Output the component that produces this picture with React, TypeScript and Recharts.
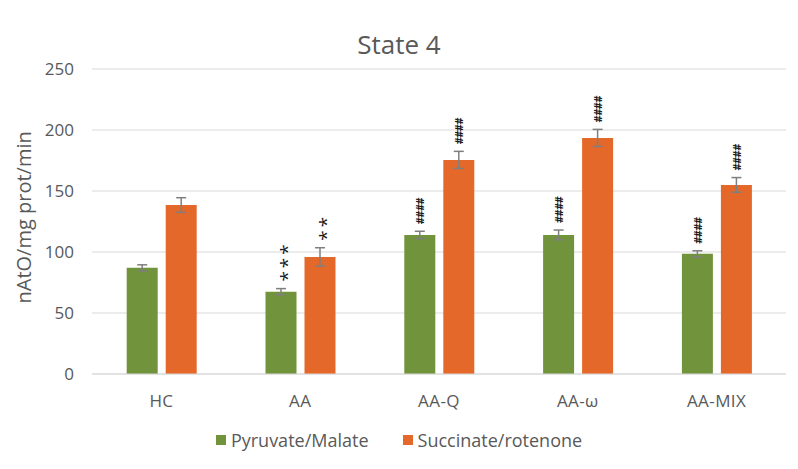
import { Bar, BarChart, CartesianGrid, ErrorBar, LabelList, XAxis, YAxis } from "recharts"

const categories = ["HC", "AA", "AA-Q", "AA-ω", "AA-MIX"]
const pyruvateMalate = [87, 67.5, 114, 114, 98.5]
const pyruvateErr = [2.5, 2.5, 3, 4, 2.5]
const succinateRotenone = [138.5, 96, 175.5, 193.5, 155]
const succinateErr = [6, 7.5, 7, 7, 6]
const pyruvateMarks = ["", "***", "####", "####", "####"]
const succinateMarks = ["", "**", "####", "####", "####"]
const yTicks = [0, 50, 100, 150, 200, 250]

const GREEN = "#71933B"
const ORANGE = "#E4682A"
const TEXT = "#595959"
const FONT = "'Open Sans', sans-serif"

const rows = categories.map((name, i) => ({
  name,
  pm: pyruvateMalate[i],
  pmErr: pyruvateErr[i],
  sr: succinateRotenone[i],
  srErr: succinateErr[i],
}))

function markRenderer(marks: string[], errs: number[], values: number[]) {
  return (props: any) => {
    const { x, y, width, height, index } = props
    const mark = marks[index]
    if (!mark) return null
    const cx = Number(x) + Number(width) / 2
    const pxPerUnit = Number(height) / values[index]
    const top = Number(y) - errs[index] * pxPerUnit - 7
    const isStar = mark.startsWith("*")
    return (
      <text
        x={cx}
        y={top}
        transform={`rotate(-90, ${cx}, ${top})`}
        textAnchor="start"
        dominantBaseline="central"
        dy={isStar ? "0.3em" : "0"}
        fontFamily={FONT}
        fontSize={isStar ? 19 : 11}
        fontWeight={isStar ? 400 : 700}
        letterSpacing={isStar ? 3 : -0.5}
        fill="#1a1a1a"
      >
        {mark}
      </text>
    )
  }
}

const legendItems = [
  { label: "Pyruvate/Malate", color: GREEN },
  { label: "Succinate/rotenone", color: ORANGE },
]

export default function App() {
  return (
    <div style={{ position: "absolute", left: 0, top: 0, width: 798, height: 469, background: "#fff" }}>
      <div
        style={{
          position: "absolute",
          top: 27,
          width: 798,
          textAlign: "center",
          fontFamily: FONT,
          fontSize: 26,
          color: TEXT,
          lineHeight: "34px",
        }}
      >
        State 4
      </div>
      <BarChart
        width={798}
        height={469}
        data={rows}
        margin={{ top: 69, right: 12, left: 0, bottom: 65 }}
        barCategoryGap="25%"
        barGap={8}
      >
        <CartesianGrid vertical={false} stroke="#D9D9D9" />
        <XAxis
          dataKey="name"
          height={30}
          axisLine={{ stroke: "#D9D9D9" }}
          tickLine={false}
          tickMargin={15}
          tick={{ fill: TEXT, fontSize: 17, fontFamily: FONT, letterSpacing: 0.4 }}
        />
        <YAxis
          width={92}
          domain={[0, 250]}
          ticks={yTicks}
          axisLine={false}
          tickLine={false}
          tickMargin={12}
          tick={{ fill: TEXT, fontSize: 17, fontFamily: FONT }}
          label={{
            value: "nAtO/mg prot/min",
            angle: -90,
            position: "insideLeft",
            dx: 19,
            dy: 82,
            style: { fill: TEXT, fontSize: 20, fontFamily: FONT },
          }}
        />
        <Bar dataKey="pm" name="Pyruvate/Malate" fill={GREEN} isAnimationActive={false}>
          <ErrorBar dataKey="pmErr" width={5} stroke="#7F7F7F" strokeWidth={1.5} />
          <LabelList dataKey="pm" content={markRenderer(pyruvateMarks, pyruvateErr, pyruvateMalate)} />
        </Bar>
        <Bar dataKey="sr" name="Succinate/rotenone" fill={ORANGE} isAnimationActive={false}>
          <ErrorBar dataKey="srErr" width={5} stroke="#7F7F7F" strokeWidth={1.5} />
          <LabelList dataKey="sr" content={markRenderer(succinateMarks, succinateErr, succinateRotenone)} />
        </Bar>
      </BarChart>
      <div
        style={{
          position: "absolute",
          top: 428,
          left: 0,
          width: 798,
          display: "flex",
          justifyContent: "center",
          gap: 34,
          fontFamily: FONT,
          fontSize: 18,
          color: TEXT,
        }}
      >
        {legendItems.map((it) => (
          <div key={it.label} style={{ display: "flex", alignItems: "center", gap: 5 }}>
            <span style={{ width: 10, height: 10, background: it.color, display: "inline-block" }} />
            <span>{it.label}</span>
          </div>
        ))}
      </div>
    </div>
  )
}
